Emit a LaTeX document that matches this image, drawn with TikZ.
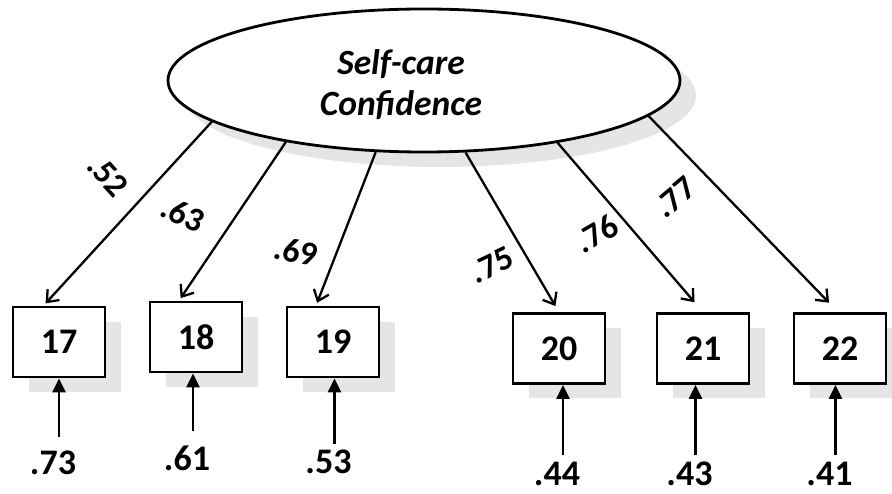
\documentclass[tikz,border=0pt]{standalone}
\usepackage{fontspec}
\setmainfont{Carlito}
\usetikzlibrary{shapes.geometric, positioning, shadows, arrows.meta}

\begin{document}
\begin{tikzpicture}[x=1pt, y=1pt, node distance=137pt]
        \tikzstyle{shadowed}=[drop shadow={shadow xshift=16pt, shadow yshift=-15pt, fill=gray!20, opacity=1}];
        \tikzstyle{latent}=[draw, ellipse, line width=2.8pt, fill=white, minimum width=512pt, minimum height=143pt, inner sep=0pt, shadowed];
        \tikzstyle{ind}=[draw, rectangle, line width=2.8pt, fill=white, minimum width=92pt, minimum height=70pt, inner sep=0pt, font=\fontsize{36}{42}\selectfont\bfseries, shadowed];
        \tikzstyle{err}=[inner sep=0pt, font=\fontsize{36}{42}\selectfont\bfseries];
        \tikzstyle{coef}=[inner sep=0pt, font=\fontsize{34}{40}\selectfont\bfseries];
        \tikzstyle{load}=[every edge/.append style={-{Straight Barb[length=10pt, width=16pt]}, line width=2.3pt, shorten >=3pt}];
        \tikzstyle{res}=[every edge/.append style={-{Triangle[length=14pt, width=13pt]}, line width=2.3pt, shorten <=6pt}];
        \useasboundingbox (0,0) rectangle (892,493);

        \node[latent, label={[xshift=-23pt, yshift=-4pt, align=center, font=\fontsize{35.5}{41}\selectfont\bfseries\itshape]center:Self-care\\Confidence}] (lat) at (424,412.5) {};

        \node[ind] (i17) at (59,151) {17};
        \node[ind, right of=i17, yshift=5pt] (i18) {18};
        \node[ind, right of=i18, yshift=-5pt] (i19) {19};
        \node[ind, right of=i19, xshift=89pt, yshift=-6.5pt] (i20) {20};
        \node[ind, right of=i20, xshift=7pt] (i21) {21};
        \node[ind, right of=i21] (i22) {22};

        \node[err, node distance=121pt, below of=i17, xshift=-6pt] (e17) {.73};
        \node[err, node distance=121pt, below of=i18, xshift=-9pt] (e18) {.61};
        \node[err, node distance=120pt, below of=i19, xshift=-4.5pt] (e19) {.53};
        \node[err, node distance=125pt, below of=i20, xshift=-2pt] (e20) {.44};
        \node[err, node distance=125pt, below of=i21, xshift=-13.5pt] (e21) {.43};
        \node[err, node distance=125pt, below of=i22, xshift=-10.5pt] (e22) {.41};

        \node[coef, rotate=-48] (c17) at (108,317) {.52};
        \node[coef, rotate=-24] (c18) at (183,279) {.63};
        \node[coef, rotate=-10] (c19) at (296,242) {.69};
        \node[coef, rotate=25] (c20) at (492,228) {.75};
        \node[coef, rotate=30] (c21) at (597,259.5) {.76};
        \node[coef, rotate=40] (c22) at (675,295.5) {.77};

        \path[load]
        (lat.191) edge (i17.113)
        (lat.204) edge (i18.115)
        (lat.236) edge (i19.115)
        (lat.300) edge[shorten >=7pt] (i20.north)
        (lat.335) edge[shorten >=13pt] (i21.north)
        (lat.351) edge[shorten >=13pt] (i22.93);

        \path[res]
        ([xshift=6pt]e17.north) edge[shorten <=14pt] ([xshift=6pt]e17.north |- i17.south)
        ([xshift=6pt]e18.north) edge[shorten <=14pt] ([xshift=6pt]e18.north |- i18.south)
        ([xshift=6pt]e19.north) edge ([xshift=6pt]e19.north |- i19.south)
        ([xshift=6pt]e20.north) edge ([xshift=6pt]e20.north |- i20.south)
        ([xshift=6pt]e21.north) edge ([xshift=6pt]e21.north |- i21.south)
        ([xshift=6pt]e22.north) edge ([xshift=6pt]e22.north |- i22.south);
\end{tikzpicture}
\end{document}
